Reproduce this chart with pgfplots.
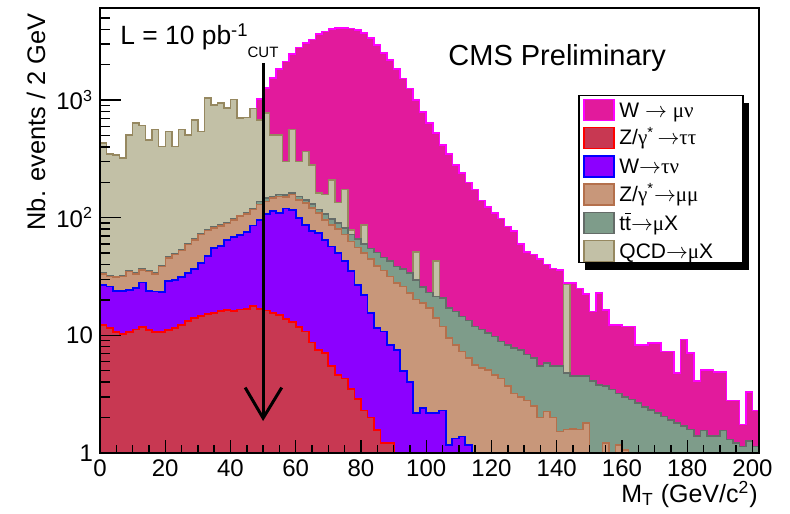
\documentclass[border=0pt]{standalone}
\usepackage{fontspec}
\setmainfont{Liberation Sans}
\newfontfamily\grk{Liberation Serif}
\usepackage{pgfplots}
\usepackage{pgfplotstable}
\pgfplotsset{compat=1.18}

\definecolor{wmunuFill}{RGB}{226,26,156}
\definecolor{wmunuLine}{RGB}{255,0,255}
\definecolor{ztautauFill}{RGB}{200,56,82}
\definecolor{ztautauLine}{RGB}{255,0,0}
\definecolor{wtaunuFill}{RGB}{140,0,255}
\definecolor{wtaunuLine}{RGB}{0,0,255}
\definecolor{zmumuFill}{RGB}{200,151,122}
\definecolor{zmumuLine}{RGB}{180,112,76}
\definecolor{ttbarFill}{RGB}{126,156,138}
\definecolor{ttbarLine}{RGB}{100,108,104}
\definecolor{qcdFill}{RGB}{194,192,166}
\definecolor{qcdLine}{RGB}{150,136,96}

\newcommand\tbar{t\rlap{\raisebox{0.76em}{\rule{0.27em}{0.065em}}}t}

% M_T distribution, 2 GeV bins; each column is the visible top of that sample
% (0.5 = empty / hidden bin, below the axis range)
\pgfplotstableread{
mt  wmunu qcd  ttbar zmumu wtaunu ztautau
0   0.5   431  33.9  33.4  27    12.3
2   0.5   350  32.2  31.7  26    11.5
4   0.5   343  31.7  31.2  24    10.6
6   0.5   321  32.2  31.7  23.7  10.3
8   0.5   507  35.5  35    24.4  10.7
10  0.5   638  33.9  33.4  25.2  11.2
12  0.5   606  36.5  36    28.2  11.7
14  0.5   460  35.5  35    24    11.1
16  0.5   560  33.9  33.4  23.6  10.7
18  0.5   404  39.2  38.6  23.2  10.6
20  0.5   542  46.3  45.4  28.8  11.1
22  0.5   404  49.5  48.5  29.7  11.6
24  0.5   560  53.9  52.8  31.3  12.2
26  0.5   507  60.2  59    33.9  13.3
28  0.5   680  66.3  65    36.6  14.1
30  0.5   542  73.1  71.7  41    14.7
32  0.5   1040 79.6  78    47    15.1
34  0.5   913  83.3  81.7  55    15.6
36  0.5   944  87.2  85.5  57.8  16.1
38  0.5   855  90.8  89    65    16.4
40  0.5   1008 97.9  96    68.5  16.2
42  0.5   703  105   103   71    16.6
44  0.5   715  111   108   76    16.8
46  0.5   850  120   117   86    17.7
48  1020  680  137   129   96    16.8
50  1265  776  147   138   108   16.3
52  1538  507  152   147   115   15.6
54  1834  507  157   152   110   14.8
56  2131  301  156   150   120   13.8
58  2476  560  162   157   116   12.9
60  2800  301  152   142   99    11.8
62  3050  366  142   133   87    10.8
64  3280  282  131   121   77    8.7
66  3650  162  118   110   74    7.5
68  3833  157  108   96    65    7.1
70  4011  210  97.5  87    57    5.5
72  4093  135  90    80    50    4.6
74  4100  173  82    72    43    4.3
76  4050  79   72    63    35    3.5
78  3963  0.5  66    56    27    2.9
80  3710  87   60    50    22    2.3
82  3364  0.5  55    44.5  15.5  2.0
84  2951  0.5  50.7  39    11.5  1.58
86  2512  0.5  46    35.7  10.8  1.22
88  2203  0.5  43    31.7  8.3   1.22
90  1834  0.5  38.6  27.8  7.5   0.5
92  1530  0.5  36.5  26    5.0   0.5
94  1260  0.5  34    23    4.0   0.5
96  1000  51   29.5  20.2  2.2   0.5
98  790   0.5  25.7  18.8  2.4   0.5
100 640   0.5  23.2  17.1  2.2   0.5
102 524   43   21.4  14    2.2   0.5
104 417   0.5  20.8  11.9  2.3   0.5
106 350   0.5  17.1  9.5   1.17  0.5
108 282   0.5  16    8.3   1.33  0.5
110 240   0.5  14.5  7.3   1.38  0.5
112 200   0.5  13.4  6.4   1.17  0.5
114 173   0.5  11.9  5.6   0.5   0.5
116 140   0.5  11.2  5.3   0.5   0.5
118 124   0.5  10.5  5.1   0.5   0.5
120 110   0.5  9.8   4.6   0.5   0.5
122 99    0.5  8.9   4.3   0.5   0.5
124 84    0.5  8.3   3.7   0.5   0.5
126 77    0.5  7.8   3.2   0.5   0.5
128 60    0.5  7.5   3.0   0.5   0.5
130 51    0.5  6.9   2.8   0.5   0.5
132 48.5  0.5  6.4   2.5   0.5   0.5
134 44.5  0.5  5.5   2.0   0.5   0.5
136 40    0.5  5.8   2.26  0.5   0.5
138 37    0.5  5.5   2.0   0.5   0.5
140 36    0.5  5.5   1.53  0.5   0.5
142 28    27   4.8   1.58  0.5   0.5
144 27.8  0.5  4.5   1.6   0.5   0.5
146 25    0.5  4.5   1.58  0.5   0.5
148 22.5  0.5  4.5   1.8   0.5   0.5
150 16    0.5  4.1   0.5   0.5   0.5
152 22.9  0.5  3.8   0.5   0.5   0.5
154 16.5  0.5  3.7   1.22  0.5   0.5
156 12.3  0.5  3.45  0.5   0.5   0.5
158 12.3  0.5  3.2   1.17  0.5   0.5
160 11.9  0.5  3.0   1.06  0.5   0.5
162 11.9  0.5  2.84  0.5   0.5   0.5
164 8.3   0.5  2.66  0.5   0.5   0.5
166 8.3   0.5  2.46  0.5   0.5   0.5
168 8.6   0.5  2.33  0.5   0.5   0.5
170 8.6   0.5  2.19  0.5   0.5   0.5
172 7.3   0.5  2.05  0.5   0.5   0.5
174 7.3   0.5  1.9   0.5   0.5   0.5
176 4.8   0.5  1.8   0.5   0.5   0.5
178 9.2   0.5  1.69  0.5   0.5   0.5
180 7.1   0.5  1.58  0.5   0.5   0.5
182 4.1   0.5  1.39  0.5   0.5   0.5
184 5.1   0.5  1.56  0.5   0.5   0.5
186 5.1   0.5  1.39  0.5   0.5   0.5
188 4.9   0.5  1.39  0.5   0.5   0.5
190 4.9   0.5  1.56  0.5   0.5   0.5
192 2.8   0.5  1.3   0.5   0.5   0.5
194 2.8   0.5  1.22  0.5   0.5   0.5
196 1.74  0.5  1.14  0.5   0.5   0.5
198 3.3   0.5  1.26  0.5   0.5   0.5
200 2.3   0.5  1.14  0.5   0.5   0.5
202 2.3   0.5  1.14  0.5   0.5   0.5
}\mtdata

% one legend row: fill colour, line colour, vertical centre, label
\newcommand\legrow[4]{%
  \filldraw[fill=#1, draw=#2, line width=0.7pt] (292pt,#3pt-5.25pt) rectangle (307pt,#3pt+5.25pt);
  \node[anchor=base west, inner sep=0pt, font=\fontsize{10.5}{12}\selectfont] at (309.5pt,#3pt-3.6pt) {#4};}

\begin{document}
\begin{tikzpicture}
\useasboundingbox (0,0) rectangle (395pt,256.5pt);
\begin{axis}[
  at={(50pt,30pt)}, anchor=south west,
  scale only axis, width=329.5pt, height=222.5pt,
  xmin=0, xmax=202, ymin=1, ymax=6070,
  ymode=log,
  axis on top,
  axis line style={line width=0.7pt},
  tick align=inside, tick pos=left,
  xtick={0,20,...,200},
  xticklabels={0,20,40,60,80,100,120,140,160,180,200},
  minor x tick num=3,
  ytick={1,10,100,1000},
  yticklabels={1,10,10\textsuperscript{2},10\textsuperscript{3}},
  minor ytick={2,3,4,5,6,7,8,9,20,30,40,50,60,70,80,90,200,300,400,500,600,700,800,900,2000,3000,4000,5000,6000},
  major tick style={line width=0.7pt, black},
  minor tick style={line width=0.7pt, black},
  xtick style={/pgfplots/major tick length=6.5pt, /pgfplots/minor tick length=3.8pt},
  ytick style={/pgfplots/major tick length=10.5pt, /pgfplots/minor tick length=5pt},
  tick label style={font=\fontsize{12}{12}\selectfont},
]
\addplot[const plot, fill=wmunuFill, draw=wmunuLine, line width=0.75pt]
  table[x=mt, y=wmunu]{\mtdata} \closedcycle;
\addplot[const plot, fill=qcdFill, draw=qcdLine, line width=0.75pt]
  table[x=mt, y=qcd]{\mtdata} \closedcycle;
\addplot[const plot, fill=ttbarFill, draw=ttbarLine, line width=0.75pt]
  table[x=mt, y=ttbar]{\mtdata} \closedcycle;
\addplot[const plot, fill=zmumuFill, draw=zmumuLine, line width=0.75pt]
  table[x=mt, y=zmumu]{\mtdata} \closedcycle;
\addplot[const plot, fill=wtaunuFill, draw=wtaunuLine, line width=0.9pt]
  table[x=mt, y=wtaunu]{\mtdata} \closedcycle;
\addplot[const plot, fill=ztautauFill, draw=ztautauLine, line width=0.9pt]
  table[x=mt, y=ztautau]{\mtdata} \closedcycle;

% cut at M_T = 50 GeV
\draw[line width=1.5pt] (axis cs:50,2070) -- (axis cs:50,1.98);
\draw[line width=1.5pt] (axis cs:44.5,3.6) -- (axis cs:50,1.98) -- (axis cs:55.7,3.6);
\end{axis}

% legend box with drop shadow
\fill[black] (292.5pt,121.65pt) rectangle (374.5pt,205.15pt);
\filldraw[fill=white, draw=black, line width=0.6pt] (289.5pt,125.15pt) rectangle (371.5pt,208.65pt);
\legrow{wmunuFill}{wmunuLine}{201.5}{W $\rightarrow$ {\grk μν}}
\legrow{ztautauFill}{ztautauLine}{187.6}{Z/{\grk γ}\textsuperscript{*}\,$\rightarrow${\grk ττ}}
\legrow{wtaunuFill}{wtaunuLine}{173.15}{W$\rightarrow${\grk τν}}
\legrow{zmumuFill}{zmumuLine}{159.25}{Z/{\grk γ}\textsuperscript{*}$\rightarrow${\grk μμ}}
\legrow{ttbarFill}{ttbarLine}{145}{\tbar$\rightarrow${\grk μ}X}
\legrow{qcdFill}{qcdLine}{130.85}{QCD$\rightarrow${\grk μ}X}

\node[anchor=base, inner sep=0pt, font=\fontsize{7.5}{8}\selectfont] at (131.5pt,227.75pt) {CUT};
\node[anchor=base west, inner sep=0pt, font=\fontsize{13.2}{14}\selectfont] at (60pt,234pt) {L = 10 pb\textsuperscript{-1}};
\node[anchor=base west, inner sep=0pt, font=\fontsize{14.5}{16}\selectfont] at (224pt,223.5pt) {CMS Preliminary};
\node[anchor=base east, rotate=90, inner sep=0pt, font=\fontsize{12.7}{14}\selectfont] at (22.5pt,250pt) {Nb. events / 2 GeV};
\node[anchor=base east, inner sep=0pt, font=\fontsize{12.5}{14}\selectfont] at (379pt,5.5pt) {M\textsubscript{T} (GeV/c\textsuperscript{2})};
\end{tikzpicture}
\end{document}
